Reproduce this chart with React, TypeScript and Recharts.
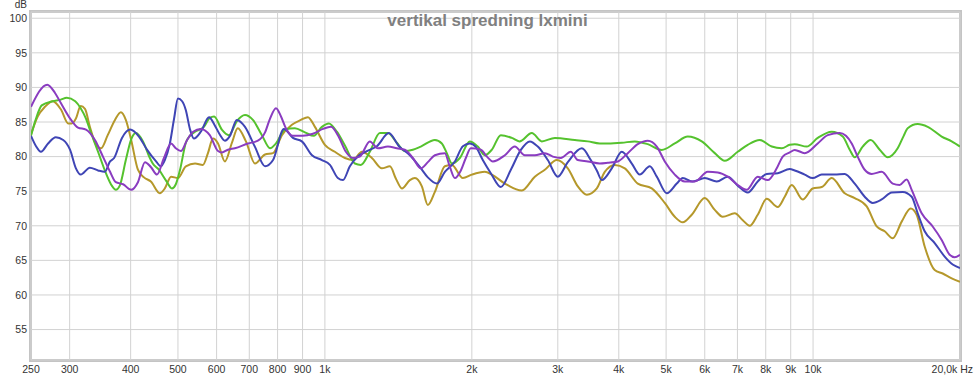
import React from 'react';
import { LineChart, Line, XAxis, YAxis, CartesianGrid } from 'recharts';

// [frequency Hz, level dB]
const purple: [number, number][] = [[250,87.2],[270,90.4],[280,89.2],[288,87.7],[302,85.3],[312,84.2],[324,83.9],[338,82.4],[351,80.0],[363,77.8],[373,76.3],[386,76.0],[401,75.2],[414,76.3],[428,79.2],[440,78.5],[453,77.4],[468,79.8],[484,81.9],[495,81.2],[507,80.8],[522,82.4],[537,83.6],[557,84.0],[581,83.1],[604,80.8],[615,80.6],[633,81.0],[654,81.2],[696,81.9],[729,82.3],[754,83.5],[772,85.5],[794,87.0],[813,85.8],[832,84.1],[860,83.0],[901,83.0],[945,83.3],[991,84.0],[1029,84.3],[1063,83.1],[1104,80.7],[1141,79.8],[1179,80.0],[1236,82.2],[1284,81.2],[1346,81.45],[1404,81.2],[1458,81.0],[1514,79.8],[1572,78.3],[1625,79.2],[1680,80.2],[1761,80.5],[1803,78.5],[1846,76.9],[1899,78.0],[1944,79.8],[1990,81.2],[2087,81.0],[2147,80.0],[2208,79.3],[2337,80.2],[2449,81.45],[2568,80.2],[2692,80.2],[2822,80.5],[2930,80.0],[3043,79.8],[3189,80.7],[3297,79.5],[3456,79.3],[3657,79.0],[3798,79.1],[3981,79.3],[4173,80.5],[4375,81.8],[4586,82.3],[4785,81.45],[4969,79.3],[5209,77.4],[5460,76.4],[5724,76.4],[6086,77.8],[6380,77.7],[6687,77.1],[7010,75.9],[7314,75.2],[7703,77.1],[8076,76.6],[8426,78.3],[8668,80.0],[8958,80.6],[9172,80.97],[9615,80.5],[10223,81.9],[10718,83.1],[11340,83.4],[12000,81.9],[12345,80.0],[12759,78.1],[13187,77.5],[13824,77.8],[14560,76.1],[15048,75.9],[15553,76.7],[15924,75.2],[16693,71.8],[17582,69.9],[18344,67.95],[19050,65.8],[19504,65.45],[20000,65.8]];

const blue: [number, number][] = [[250,83.0],[256,81.5],[262,80.7],[271,81.9],[281,82.8],[291,82.4],[300.5,81.0],[309,78.3],[316,77.4],[330,78.4],[343,78.0],[354,77.8],[363,79.3],[370,79.8],[384,82.7],[399,83.9],[416,82.9],[432,81.0],[451,79.3],[461,78.6],[470,79.5],[481,81.8],[491,85.5],[500,88.4],[510,88.0],[519,86.7],[529,84.0],[539,82.6],[557,83.6],[579,85.7],[595,84.5],[609,83.2],[624,82.3],[639,83.0],[660,85.3],[686,84.3],[719,81.4],[754,78.6],[783,79.5],[824,84.0],[860,82.7],[897,82.2],[941,80.2],[986,79.5],[1024,78.8],[1063,76.9],[1089,76.6],[1125,78.6],[1168,80.0],[1219,80.8],[1278,81.5],[1352,83.4],[1418,81.5],[1493,80.2],[1565,78.5],[1625,77.0],[1696,76.1],[1761,77.8],[1846,79.3],[1917,81.5],[1981,81.9],[2038,81.4],[2106,79.5],[2187,77.6],[2293,75.6],[2404,78.1],[2520,80.97],[2629,82.2],[2730,81.45],[2862,79.5],[3000,77.1],[3145,79.2],[3360,81.2],[3505,79.5],[3606,78.0],[3692,76.6],[3870,78.3],[4057,80.7],[4253,79.0],[4416,77.4],[4630,78.6],[4785,77.1],[5016,74.7],[5258,76.1],[5409,76.9],[5670,76.4],[6000,76.9],[6350,76.4],[6687,77.1],[7010,75.8],[7349,74.8],[7703,76.4],[8038,77.5],[8466,77.6],[8958,78.2],[9172,78.0],[9615,77.4],[9985,76.9],[10418,77.4],[11076,77.4],[11611,77.5],[12172,76.1],[12759,74.2],[13249,73.3],[13824,73.8],[14491,74.8],[15263,74.9],[15924,74.2],[16382,71.8],[16931,69.2],[17749,67.5],[18605,65.55],[19322,64.4],[20000,63.9]];

const green: [number, number][] = [[250,83.0],[256,85.5],[263,87.4],[277,88.0],[287,88.2],[296,88.5],[308,88.0],[316,87.0],[324,85.5],[330,83.9],[343,80.7],[356,77.6],[366,75.8],[373,75.2],[380,75.8],[391,79.5],[401,82.5],[410,83.4],[424,82.2],[438,79.8],[444,79.0],[457,78.1],[473,76.5],[486,75.4],[495,76.0],[505,78.1],[519,82.0],[529,83.0],[542,83.6],[565,84.3],[581,85.6],[593,85.8],[615,83.9],[636,83.1],[660,85.1],[686,86.0],[712,85.3],[743,83.1],[772,81.2],[794,81.9],[828,83.9],[868,84.1],[910,83.5],[949,83.0],[986,84.3],[1019,84.8],[1058,83.6],[1099,81.6],[1152,79.0],[1185,78.8],[1236,80.7],[1296,83.4],[1346,83.4],[1404,82.0],[1458,80.8],[1514,81.0],[1572,81.45],[1680,82.4],[1736,81.9],[1777,80.5],[1820,79.0],[1890,79.8],[1981,82.2],[2057,81.45],[2126,80.2],[2198,81.0],[2293,83.1],[2415,82.7],[2504,82.2],[2654,83.4],[2782,82.2],[2958,82.7],[3251,82.4],[3456,82.2],[3657,81.9],[3798,81.9],[4057,82.0],[4314,82.2],[4586,81.8],[4899,80.97],[5209,81.9],[5538,82.9],[5916,82.2],[6290,80.5],[6593,79.4],[7010,80.7],[7349,81.7],[7777,82.4],[8230,81.45],[8627,81.2],[8958,81.7],[9172,81.8],[9706,81.45],[10223,82.7],[10921,83.6],[11502,82.9],[11888,81.0],[12172,79.9],[12638,81.45],[13125,82.4],[13695,81.0],[14220,79.9],[14907,81.2],[15335,83.0],[15627,84.1],[16382,84.7],[17173,84.3],[18344,82.9],[19230,82.2],[20000,81.45]];

const gold: [number, number][] = [[250,83.2],[258,85.8],[267,87.2],[277,88.0],[288,86.8],[298,84.8],[303,84.8],[309,85.5],[316,87.3],[322.5,86.9],[330,84.3],[340,81.7],[348,81.2],[359,83.1],[371.5,85.3],[382,86.4],[391,85.3],[401,82.4],[414,78.1],[426,77.0],[440,76.4],[459,74.7],[470,75.4],[484,77.1],[500,76.9],[519,78.6],[542,79.0],[562.5,78.8],[576,80.5],[590,82.6],[604,81.9],[624,79.3],[645,82.0],[663,84.1],[689,82.2],[719,79.0],[754,80.3],[783,80.5],[816.5,83.1],[856,84.6],[893,85.3],[923,85.7],[954,84.3],[1000,81.7],[1048,80.7],[1099,79.8],[1141,79.5],[1191,80.7],[1248,79.8],[1308,78.3],[1359,78.6],[1398,76.8],[1438,75.4],[1493,76.6],[1529,76.9],[1580,75.7],[1625,73.0],[1680,74.9],[1761,78.6],[1820,78.8],[1917,76.9],[2000,77.4],[2126,77.8],[2198,77.4],[2337,76.1],[2532,75.1],[2692,77.1],[2822,78.1],[2986,79.5],[3145,78.3],[3297,75.7],[3440,74.5],[3606,75.4],[3744,77.8],[3925,78.8],[4115,78.3],[4375,76.1],[4673,75.4],[4969,73.3],[5209,71.3],[5409,70.5],[5643,71.6],[6000,74.0],[6290,72.3],[6531,71.3],[6912,71.8],[7178,70.8],[7417,70.0],[7703,71.6],[8038,73.9],[8466,72.7],[8750,74.2],[9043,75.9],[9525,73.8],[9985,75.4],[10418,75.6],[10921,76.9],[11611,74.7],[12172,74.0],[12880,72.8],[13501,69.9],[14020,69.2],[14560,68.2],[15191,70.6],[15849,72.5],[16304,71.6],[16931,67.0],[17749,63.6],[18430,63.1],[19230,62.4],[20000,61.9]];

const xTicks = [250, 300, 400, 500, 600, 700, 800, 900, 1000, 2000, 3000, 4000, 5000, 6000, 7000, 8000, 9000, 10000, 20000];
const yTicks = [55, 60, 65, 70, 75, 80, 85, 90, 95, 100];
const title = 'vertikal spredning lxmini';

const toRows = (pts: [number, number][]) => pts.map(([f, db]) => ({ f, db }));

const TICK_FONT = "'Liberation Sans Narrow', 'Arial Narrow', 'Liberation Sans', sans-serif";

const fmtX = (v: number) => {
  if (v === 20000) return '20,0k Hz';
  if (v >= 1000) return `${v / 1000}k`;
  return String(v);
};

const XTick = (props: any) => {
  const { x, y, payload } = props;
  const v = payload.value;
  const last = v === 20000;
  return (
    <text x={last ? x + 13 : x} y={y} dy="0.71em" textAnchor={last ? 'end' : 'middle'}
      fill="#333" fontSize={10.5} fontFamily={TICK_FONT}>{fmtX(v)}</text>
  );
};

const YTick = (props: any) => {
  const { x, y, payload } = props;
  return (
    <text x={x} y={y} dy="0.355em" textAnchor="end" fill="#333" fontSize={10.5} fontFamily={TICK_FONT}>
      {payload.value}
    </text>
  );
};

const series = [
  { name: 'gold', pts: gold, color: '#B5982B' },
  { name: 'green', pts: green, color: '#55C22E' },
  { name: 'blue', pts: blue, color: '#3F45B5' },
  { name: 'purple', pts: purple, color: '#8A3CC0' },
];

export default function App() {
  return (
    <div style={{ position: 'absolute', left: 0, top: 0, width: 975, height: 377, background: '#fff' }}>
      <div style={{ position: 'absolute', left: 29, top: 10, width: 933, height: 352, boxSizing: 'border-box', border: '3px solid #c4c4c4' }} />
      <div style={{ position: 'absolute', left: 0, top: 0 }}>
        <LineChart width={975} height={377} margin={{ top: 12, right: 15, bottom: 0, left: 0 }}>
          <CartesianGrid stroke="#d2d2d2" strokeWidth={1} />
          <XAxis dataKey="f" type="number" scale="log" domain={[250, 20000]} ticks={xTicks}
            allowDataOverflow height={17} tickLine={false} axisLine={false} tickSize={0} tickMargin={6}
            tick={<XTick />} interval={0} />
          <YAxis type="number" domain={[50.6, 100.9]} ticks={yTicks} allowDataOverflow width={31}
            tickLine={false} axisLine={false} tickSize={0} tickMargin={4} tick={<YTick />} interval={0} />
          {series.map((s) => (
            <Line key={s.name} data={toRows(s.pts)} dataKey="db" type="monotone" stroke={s.color}
              strokeWidth={2} dot={false} isAnimationActive={false} />
          ))}
        </LineChart>
      </div>
      <div style={{ position: 'absolute', left: 0, top: 12, width: 975, textAlign: 'center', fontFamily: "'Liberation Sans', Arial, sans-serif", fontWeight: 'bold', fontSize: 17, lineHeight: '17px', color: '#808080' }}>
        {title}
      </div>
      <div style={{ position: 'absolute', right: 975 - 27, top: 0, fontFamily: TICK_FONT, fontSize: 10, lineHeight: '10px', color: '#333' }}>
        dB
      </div>
    </div>
  );
}
